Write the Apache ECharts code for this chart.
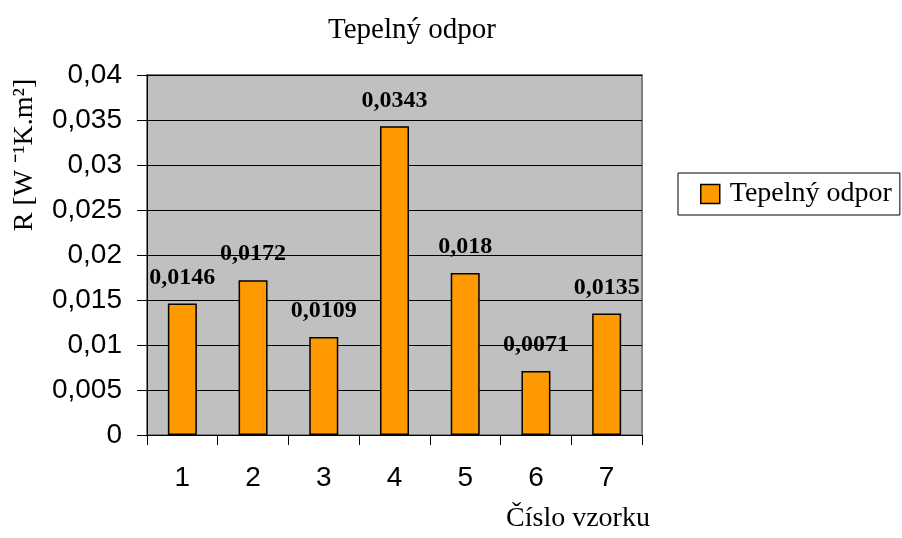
<!DOCTYPE html>
<html>
<head>
<meta charset="utf-8">
<script src="https://cdn.jsdelivr.net/npm/echarts@6/dist/echarts.min.js"></script>
<style>
  html, body { margin: 0; padding: 0; background: #fff; }
  #chart { width: 902px; height: 538px; }
</style>
</head>
<body>
<div id="chart"></div>
<script>
const categories = ["1", "2", "3", "4", "5", "6", "7"];
const resistance = [0.0146, 0.0172, 0.0109, 0.0343, 0.018, 0.0071, 0.0135];

const serif = "Liberation Serif";
const sans = "Liberation Sans";
const comma = (v) => String(+v.toFixed(4)).replace(".", ",");

const chart = echarts.init(document.getElementById("chart"));
chart.setOption({
  animation: false,
  backgroundColor: "#fff",
  title: {
    text: "Tepelný odpor",
    left: 407,
    textAlign: "center",
    top: 11,
    textStyle: { fontFamily: serif, fontSize: 29, fontWeight: "normal", color: "#000" },
  },
  legend: {
    data: [{ name: "Tepelný odpor", icon: "rect" }],
    left: 678,
    top: 173,
    padding: [7, 8, 7, 22],
    borderColor: "#000",
    borderWidth: 1,
    itemWidth: 19,
    itemHeight: 19,
    itemGap: 0,
    itemStyle: { borderColor: "#000", borderWidth: 1.5 },
    textStyle: { fontFamily: serif, fontSize: 28, color: "#000", padding: [0, 0, 0, 5] },
  },
  grid: {
    left: 147,
    right: 260,
    top: 75,
    bottom: 103,
    show: true,
    backgroundColor: "#c0c0c0",
    borderColor: "#808080",
    borderWidth: 2,
  },
  graphic: [{
    type: "text",
    x: 25,
    y: 155,
    rotation: Math.PI / 2,
    style: {
      text: "R [W ⁻¹K.m²]",
      fontFamily: serif,
      fontSize: 28,
      fill: "#000",
      align: "center",
      verticalAlign: "middle",
    },
  }, {
    type: "text",
    x: 578,
    y: 533,
    style: {
      text: "Číslo vzorku",
      fontFamily: serif,
      fontSize: 28,
      fill: "#000",
      align: "center",
      verticalAlign: "bottom",
    },
  }],
  xAxis: {
    type: "category",
    data: categories,
    axisLine: { lineStyle: { color: "#000", width: 1 } },
    axisTick: { show: true, length: 10, alignWithLabel: false, lineStyle: { color: "#000" } },
    axisLabel: { fontFamily: sans, fontSize: 28, color: "#000", margin: 29 },
  },
  yAxis: {
    type: "value",
    min: 0,
    max: 0.04,
    interval: 0.005,
    axisLine: { show: true, lineStyle: { color: "#000", width: 1 } },
    axisTick: { show: true, length: 10, lineStyle: { color: "#000" } },
    axisLabel: { fontFamily: sans, fontSize: 28, color: "#000", margin: 25, formatter: comma },
    splitLine: { show: true, lineStyle: { color: "#000", width: 1 } },
  },
  series: [{
    type: "bar",
    name: "Tepelný odpor",
    data: resistance,
    barWidth: "41%",
    itemStyle: { color: "#ff9900", borderColor: "#000", borderWidth: 1.5 },
    label: {
      show: true,
      position: "top",
      distance: 14,
      fontFamily: serif,
      fontSize: 24,
      fontWeight: "bold",
      color: "#000",
      formatter: (p) => comma(p.value),
    },
  }],
});
</script>
</body>
</html>
